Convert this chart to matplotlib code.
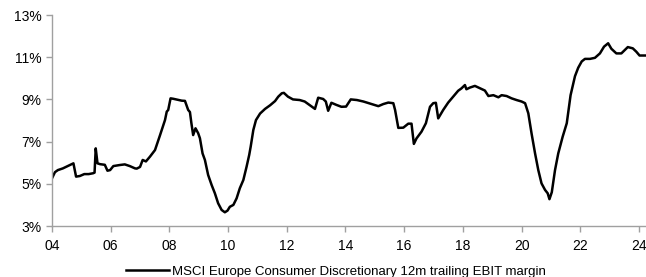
import matplotlib.pyplot as plt
from matplotlib.ticker import FuncFormatter

plt.rcParams["font.family"] = ["Liberation Sans Narrow", "Liberation Sans", "DejaVu Sans"]

# decimal year / EBIT margin (%)
dates = [
    2004.00, 2004.10, 2004.20, 2004.37, 2004.60, 2004.73, 2004.82, 2004.95,
    2005.10, 2005.25, 2005.40, 2005.45, 2005.49, 2005.55, 2005.64, 2005.80,
    2005.89, 2005.98, 2006.09, 2006.31, 2006.48, 2006.54, 2006.65, 2006.83,
    2006.89, 2007.00, 2007.09, 2007.20, 2007.34, 2007.51, 2007.68, 2007.85,
    2007.91, 2007.96, 2008.04, 2008.13, 2008.30, 2008.42, 2008.53, 2008.64,
    2008.70, 2008.75, 2008.81, 2008.89, 2008.98, 2009.04, 2009.13, 2009.21,
    2009.32, 2009.44, 2009.55, 2009.66, 2009.78, 2009.89, 2009.98, 2010.06,
    2010.18, 2010.29, 2010.40, 2010.52, 2010.63, 2010.72, 2010.77, 2010.86,
    2010.95, 2011.09, 2011.26, 2011.43, 2011.60, 2011.71, 2011.83, 2011.90,
    2012.04, 2012.21, 2012.44, 2012.61, 2012.78, 2012.96, 2013.07, 2013.24,
    2013.33, 2013.41, 2013.52, 2013.69, 2013.86, 2014.02, 2014.18, 2014.39,
    2014.61, 2014.84, 2015.01, 2015.12, 2015.29, 2015.46, 2015.63, 2015.69,
    2015.80, 2015.97, 2016.14, 2016.25, 2016.33, 2016.42, 2016.59, 2016.74,
    2016.88, 2016.99, 2017.08, 2017.16, 2017.33, 2017.50, 2017.67, 2017.84,
    2017.95, 2018.07, 2018.12, 2018.24, 2018.41, 2018.58, 2018.75, 2018.87,
    2019.04, 2019.21, 2019.32, 2019.49, 2019.66, 2019.83, 2020.00, 2020.12,
    2020.23, 2020.34, 2020.46, 2020.57, 2020.68, 2020.80, 2020.89, 2020.95,
    2021.03, 2021.14, 2021.25, 2021.40, 2021.54, 2021.67, 2021.82, 2021.93,
    2022.05, 2022.16, 2022.33, 2022.50, 2022.67, 2022.81, 2022.95, 2023.06,
    2023.23, 2023.40, 2023.51, 2023.62, 2023.79, 2023.91, 2024.02, 2024.24,
]
margin = [
    5.26, 5.55, 5.65, 5.73, 5.88, 5.97, 5.34, 5.37,
    5.46, 5.46, 5.50, 5.53, 6.68, 5.97, 5.93, 5.90,
    5.62, 5.65, 5.84, 5.89, 5.92, 5.89, 5.84, 5.73,
    5.72, 5.80, 6.13, 6.06, 6.29, 6.60, 7.30, 8.02,
    8.42, 8.50, 9.05, 9.03, 8.98, 8.94, 8.93, 8.50,
    8.40, 7.87, 7.31, 7.63, 7.40, 7.16, 6.44, 6.13,
    5.42, 4.94, 4.55, 4.08, 3.76, 3.65, 3.73, 3.91,
    4.00, 4.31, 4.79, 5.18, 5.81, 6.37, 6.76, 7.55,
    8.02, 8.33, 8.55, 8.72, 8.92, 9.13, 9.29, 9.31,
    9.13, 9.00, 8.97, 8.90, 8.73, 8.55, 9.08, 9.02,
    8.90, 8.46, 8.84, 8.74, 8.65, 8.66, 9.00, 8.97,
    8.90, 8.80, 8.73, 8.68, 8.78, 8.85, 8.82, 8.50,
    7.65, 7.66, 7.85, 7.85, 6.89, 7.15, 7.47, 7.87,
    8.65, 8.82, 8.84, 8.10, 8.50, 8.85, 9.13, 9.41,
    9.52, 9.68, 9.48, 9.56, 9.64, 9.53, 9.42, 9.16,
    9.20, 9.10, 9.20, 9.16, 9.05, 8.97, 8.90, 8.82,
    8.34, 7.39, 6.44, 5.65, 5.02, 4.71, 4.55, 4.27,
    4.60, 5.65, 6.44, 7.23, 7.87, 9.20, 10.10, 10.50,
    10.80, 10.92, 10.92, 10.97, 11.18, 11.50, 11.66, 11.40,
    11.18, 11.18, 11.33, 11.48, 11.42, 11.26, 11.08, 11.08,
]
x_ticks = list(range(2004, 2025, 2))
y_ticks = [3, 5, 7, 9, 11, 13]
series_label = "MSCI Europe Consumer Discretionary 12m trailing EBIT margin"

fig = plt.figure(figsize=(6.46, 2.77), dpi=100)
ax = fig.add_axes([52 / 646, 1 - 226 / 277, 594 / 646, 211 / 277])

ax.plot(dates, margin, color="black", lw=1.8, label=series_label)

ax.set_xlim(2004, 2024.24)
ax.set_ylim(3, 13)
ax.set_xticks(x_ticks)
ax.xaxis.set_major_formatter(FuncFormatter(lambda v, p: f"{int(v) % 100:02d}"))
ax.set_yticks(y_ticks)
ax.yaxis.set_major_formatter(FuncFormatter(lambda v, p: f"{v:.0f}%"))

for s in ["top", "right"]:
    ax.spines[s].set_visible(False)
for s in ["left", "bottom"]:
    ax.spines[s].set_color("#a0a0a0")
    ax.spines[s].set_linewidth(1.0)
ax.tick_params(axis="both", colors="#a0a0a0", labelcolor="black", labelsize=10,
               length=4, width=1.0, direction="out")
ax.tick_params(axis="x", pad=5)

fig.legend(loc="lower center", bbox_to_anchor=(0.52, -0.045), frameon=False,
           fontsize=9.5, handlelength=3.3, handletextpad=0.2)

fig.savefig("out.png", dpi=100)
